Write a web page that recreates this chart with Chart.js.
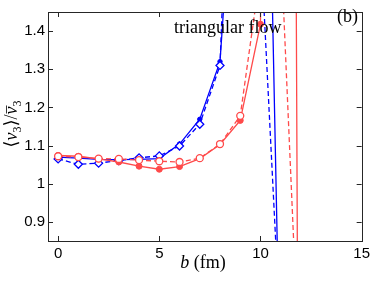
<!DOCTYPE html>
<html>
<head>
<meta charset="utf-8">
<script src="https://cdn.jsdelivr.net/npm/chart.js@4.4.0/dist/chart.umd.min.js"></script>
<style>
html, body { margin: 0; padding: 0; background: #fff; }
#wrap { width: 374px; height: 281px; }
</style>
</head>
<body>
<div id="wrap"><canvas id="mycanvas"></canvas></div>
<script>
// impact parameter b (fm)
var bValues = [0, 1, 2, 3, 4, 5, 6, 7, 8, 9, 10, 11, 12];

// <v3>/v3bar, the last points run off the plotted range
var blueSolid  = [1.070, 1.067, 1.064, 1.063, 1.064, 1.066, 1.104, 1.169, 1.320, 2.10, 3.00, 0.40];
var blueDashed = [1.065, 1.051, 1.054, 1.061, 1.068, 1.073, 1.099, 1.156, 1.310, 2.71, 1.64, 0.59];
var redSolid   = [1.074, 1.072, 1.065, 1.057, 1.046, 1.038, 1.045, 1.066, 1.103, 1.166, 1.418, 10.7, -1.3];
var redDashed  = [1.072, 1.070, 1.066, 1.065, 1.062, 1.059, 1.057, 1.067, 1.104, 1.178, 1.556, 1.63, 0.41];

var xTicks = [0, 5, 10, 15];
var yTicks = [0.9, 1.0, 1.1, 1.2, 1.3, 1.4];

var xMin = -0.5, xMax = 15;
var yMin = 0.85, yMax = 1.45;

var BLUE = '#0000ff';
var RED = '#ff4a4a';
var SERIF = '"Liberation Serif", "DejaVu Serif", serif';

function toPoints(vals) {
	var pts = [];
	for (var i in vals) {
		pts.push({x: bValues[i], y: vals[i]});
	}
	return pts;
}

function radius(r) {
	return function(c) {
		var v = c.raw;
		if (!v || v.y > yMax || v.y < yMin) return 0;
		return r;
	};
}

function drawParts(ctx, parts, x, y) {
	var total = 0;
	for (var i in parts) {
		ctx.font = parts[i].f;
		parts[i].w = ctx.measureText(parts[i].t).width;
		total += parts[i].w;
	}
	var cx = x - total / 2;
	for (var j in parts) {
		var p = parts[j];
		ctx.font = p.f;
		ctx.fillText(p.t, cx, y + (p.dy || 0));
		if (p.bar) {
			ctx.beginPath();
			ctx.lineWidth = 0.8;
			ctx.moveTo(cx + 1, y - 10.5);
			ctx.lineTo(cx + p.w + 1, y - 10.5);
			ctx.stroke();
		}
		cx += p.w;
	}
}

var frame = {
	id: 'frame',
	afterDraw: function(chart) {
		var ctx = chart.ctx;
		var a = chart.chartArea;
		var xs = chart.scales.x, ys = chart.scales.y;
		ctx.save();
		ctx.strokeStyle = '#262626';
		ctx.lineWidth = 1;
		ctx.strokeRect(Math.round(a.left) + 0.5, Math.round(a.top) + 0.5,
			Math.round(a.right - a.left), Math.round(a.bottom - a.top));
		ctx.beginPath();
		for (var i in xTicks) {
			var px = Math.round(xs.getPixelForValue(xTicks[i])) + 0.5;
			ctx.moveTo(px, a.bottom); ctx.lineTo(px, a.bottom - 5);
			ctx.moveTo(px, a.top); ctx.lineTo(px, a.top + 5);
		}
		for (var k in yTicks) {
			var py = Math.round(ys.getPixelForValue(yTicks[k])) + 0.5;
			ctx.moveTo(a.left, py); ctx.lineTo(a.left + 5, py);
			ctx.moveTo(a.right, py); ctx.lineTo(a.right - 5, py);
		}
		ctx.stroke();

		ctx.fillStyle = '#000';
		ctx.strokeStyle = '#000';
		ctx.textBaseline = 'alphabetic';
		ctx.textAlign = 'left';
		ctx.font = '18px ' + SERIF;
		ctx.fillText('triangular flow', 174, 33);
		ctx.fillText('(b)', 337, 21.5);

		// x title
		drawParts(ctx, [
			{t: 'b', f: 'italic 18px ' + SERIF},
			{t: ' (fm)', f: '18px ' + SERIF}
		], 203, 268);

		// y title
		ctx.translate(17, 124);
		ctx.rotate(-Math.PI / 2);
		drawParts(ctx, [
			{t: '\u27E8', f: '18px ' + SERIF},
			{t: 'v', f: 'italic 18px ' + SERIF},
			{t: '3', f: '12px ' + SERIF, dy: 4},
			{t: '\u27E9/', f: '18px ' + SERIF},
			{t: 'v', f: 'italic 18px ' + SERIF, bar: true},
			{t: '3', f: '12px ' + SERIF, dy: 4}
		], 0, 0);
		ctx.restore();
	}
};

var chartdata = {
	datasets: [
		{
			label: 'red dashed',
			data: toPoints(redDashed),
			borderColor: RED,
			borderWidth: 1.3,
			borderDash: [5, 3],
			pointStyle: 'circle',
			pointRadius: radius(3.5),
			pointBorderWidth: 1.3,
			pointBorderColor: RED,
			pointBackgroundColor: '#fff',
			clip: 0
		},
		{
			label: 'red solid',
			data: toPoints(redSolid),
			borderColor: RED,
			borderWidth: 1.3,
			pointStyle: 'circle',
			pointRadius: radius(3),
			pointBorderWidth: 1,
			pointBorderColor: RED,
			pointBackgroundColor: RED,
			clip: 0
		},
		{
			label: 'blue dashed',
			data: toPoints(blueDashed),
			borderColor: BLUE,
			borderWidth: 1.3,
			borderDash: [5, 3],
			pointStyle: 'rectRot',
			pointRadius: radius(4),
			pointBorderWidth: 1.3,
			pointBorderColor: BLUE,
			pointBackgroundColor: '#fff',
			clip: 0
		},
		{
			label: 'blue solid',
			data: toPoints(blueSolid),
			borderColor: BLUE,
			borderWidth: 1.3,
			pointStyle: 'circle',
			pointRadius: radius(2.2),
			pointBorderWidth: 1,
			pointBorderColor: BLUE,
			pointBackgroundColor: BLUE,
			clip: 0
		}
	]
};

var ctx = document.getElementById('mycanvas');

var graph = new Chart(ctx, {
	type: 'line',
	data: chartdata,
	plugins: [frame],
	options: {
		responsive: true,
		maintainAspectRatio: false,
		animation: false,
		devicePixelRatio: 1,
		layout: { padding: { left: 0, top: 5, right: 12, bottom: 0 } },
		plugins: { legend: { display: false }, tooltip: { enabled: false } },
		scales: {
			x: {
				type: 'linear',
				min: xMin,
				max: xMax,
				grid: { display: false, drawTicks: false },
				border: { display: false },
				afterBuildTicks: function(s) { s.ticks = xTicks.map(function(v) { return {value: v}; }); },
				afterFit: function(s) { s.height = 40; },
				ticks: {
					padding: 4,
					maxRotation: 0,
					color: '#000',
					font: { family: '"Liberation Sans", Arial, sans-serif', size: 15 },
					callback: function(v) { return String(v); }
				}
			},
			y: {
				type: 'linear',
				min: yMin,
				max: yMax,
				grid: { display: false, drawTicks: false },
				border: { display: false },
				afterBuildTicks: function(s) { s.ticks = yTicks.map(function(v) { return {value: v}; }); },
				afterFit: function(s) { s.width = 48; },
				ticks: {
					padding: 3,
					color: '#000',
					font: { family: '"Liberation Sans", Arial, sans-serif', size: 15 },
					callback: function(v) { return v === 1 ? '1' : String(Math.round(v * 10) / 10); }
				}
			}
		}
	}
});
</script>
</body>
</html>
